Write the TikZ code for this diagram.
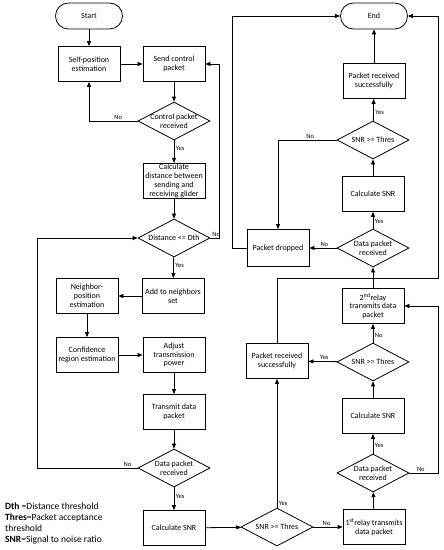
\documentclass[tikz,border=0pt]{standalone}
\usepackage{fontspec}
\setmainfont{Carlito}
\usepackage{tikz}
\usetikzlibrary{positioning, shapes.geometric, arrows.meta}

\tikzset{
  base/.style={draw, line width=0.8pt, font=\fontsize{8}{8.8}\selectfont, align=center},
  proc/.style={base, rectangle, minimum width=62pt, minimum height=35pt, inner sep=1pt},
  dec/.style={base, diamond, aspect=1.9, minimum width=72pt, minimum height=38pt, inner sep=-2pt},
  term/.style={base, rectangle, rounded corners=12.9pt, minimum width=67pt, minimum height=26pt},
  arr/.style={line width=0.8pt, -{Triangle[length=5pt,width=4pt]}},
  lbl/.style={font=\fontsize{6.5}{7}\selectfont, inner sep=1.5pt}
}

\begin{document}
\begin{tikzpicture}[x=1pt, y=-1pt]
  \useasboundingbox (0,0) rectangle (444,550);

  % left column
  \node[term] (start) at (89,16) {Start};
  \node[proc] (selfpos) at (89,64) {Self-position\\estimation};
  \node[proc] (sendctrl) at (174,64) {Send control\\packet};
  \node[dec] (ctrlrx) at (174,121) {Control packet\\received};
  \node[proc] (calcdist) at (174,181) {Calculate\\distance between\\sending and\\receiving glider};
  \node[dec] (distchk) at (174,238) {Distance <= Dth};
  \node[proc] (addnb) at (173,296) {Add to neighbors\\set};
  \node[proc] (nbpos) at (87,296) {Neighbor-\\position\\estimation};
  \node[proc] (confreg) at (87,355) {Confidence\\region estimation};
  \node[proc] (adjpow) at (174,355) {Adjust\\transmission\\power};
  \node[proc] (txdata) at (174,412) {Transmit data\\packet};
  \node[dec] (datarx) at (174,468) {Data packet\\received};
  \node[proc] (calcsnr) at (174,528) {Calculate SNR};

  % right part
  \node[dec] (snrchk) at (277,527) {SNR >= Thres};
  \node[proc] (relayA) at (374,527) {1\textsuperscript{st}relay transmits\\data packet};
  \node[dec] (datarxA) at (373,473) {Data packet\\received};
  \node[proc] (calcsnrA) at (373,416) {Calculate SNR};
  \node[dec] (snrchkA) at (373,362) {SNR >= Thres};
  \node[proc] (okA) at (277,361) {Packet received\\successfully};
  \node[proc] (relayB) at (373,306) {2\textsuperscript{nd}relay\\transmits data\\packet};
  \node[dec] (datarxB) at (373,248) {Data packet\\received};
  \node[proc, minimum height=37pt] (dropped) at (278,248) {Packet dropped};
  \node[proc] (calcsnrB) at (373,194) {Calculate SNR};
  \node[dec] (snrchkB) at (373,140) {SNR >= Thres};
  \node[proc] (okB) at (374,81) {Packet received\\successfully};
  \node[term] (end) at (374,16) {End};

  \coordinate (loopL) at (37,468);
  \coordinate (loopT) at (232,16);
  \coordinate (loopR) at (438,278);

  % legend
  \node[anchor=north west, align=left, inner sep=0pt, font=\fontsize{9.5}{11}\selectfont] (legend) at (5,503)
    {\textbf{Dth} =Distance threshold\\\textbf{Thres}=Packet acceptance\\threshold\\\textbf{SNR}=Signal to noise ratio};

  % connectors, left column
  \draw[arr] (start) -- (selfpos);
  \draw[arr] (selfpos) -- (sendctrl);
  \draw[arr] (sendctrl) -- (ctrlrx);
  \draw[arr] (ctrlrx.west) -- node[lbl, above, pos=0.4] {No} (ctrlrx.west -| selfpos) -- (selfpos);
  \draw[arr] (ctrlrx) -- node[lbl, right, pos=0.35] {Yes} (calcdist);
  \draw[arr] (calcdist) -- (distchk);
  \draw[arr] (distchk.east) node[lbl, above right] {No} -| ([xshift=14pt]sendctrl.east) -- (sendctrl.east);
  \draw[arr] (distchk) -- node[lbl, right, pos=0.4] {Yes} (addnb);
  \draw[arr] (addnb) -- (nbpos);
  \draw[arr] (nbpos) -- (confreg);
  \draw[arr] (confreg) -- (adjpow);
  \draw[arr] (adjpow) -- (txdata);
  \draw[arr] (txdata) -- (datarx);
  \draw[arr] (datarx.west) -- node[lbl, above, pos=0.1] {No} (loopL) |- (distchk.west);
  \draw[arr] (datarx) -- node[lbl, right, pos=0.4] {Yes} (calcsnr);
  \draw[arr] (calcsnr) -- (snrchk);

  % connectors, relays
  \draw[arr] (snrchk.north) node[lbl, above right] {Yes} -- (okA);
  \draw[arr] (snrchk) -- node[lbl, above, pos=0.45] {No} (relayA);
  \draw[arr] (relayA) -- (datarxA);
  \draw[arr] (datarxA) -- node[lbl, right, pos=0.4] {Yes} (calcsnrA);
  \draw[arr] (datarxA.east) -- node[lbl, above, pos=0.4] {No} (datarxA.east -| loopR) |- (relayB.east);
  \draw[arr] (calcsnrA) -- (snrchkA);
  \draw[arr] (snrchkA) -- node[lbl, above, pos=0.45] {Yes} (okA);
  \draw[arr] (snrchkA) -- node[lbl, right, pos=0.4] {No} (relayB);
  \draw[arr] (relayB) -- (datarxB);
  \draw[arr] (okA.north) |- (loopR) |- (end.east);
  \draw[arr] (datarxB) -- node[lbl, right, pos=0.4] {Yes} (calcsnrB);
  \draw[arr] (datarxB) -- node[lbl, above, pos=0.45] {No} (dropped);
  \draw[arr] (calcsnrB) -- (snrchkB);
  \draw[arr] (snrchkB) -- node[lbl, right, pos=0.4] {Yes} (okB);
  \draw[arr] (snrchkB.west) -- node[lbl, above, pos=0.45] {No} (snrchkB.west -| dropped) -- (dropped);
  \draw[arr] (okB) -- (end);
  \draw[arr] (dropped.west) -| (loopT) -- (end.west);
\end{tikzpicture}
\end{document}
